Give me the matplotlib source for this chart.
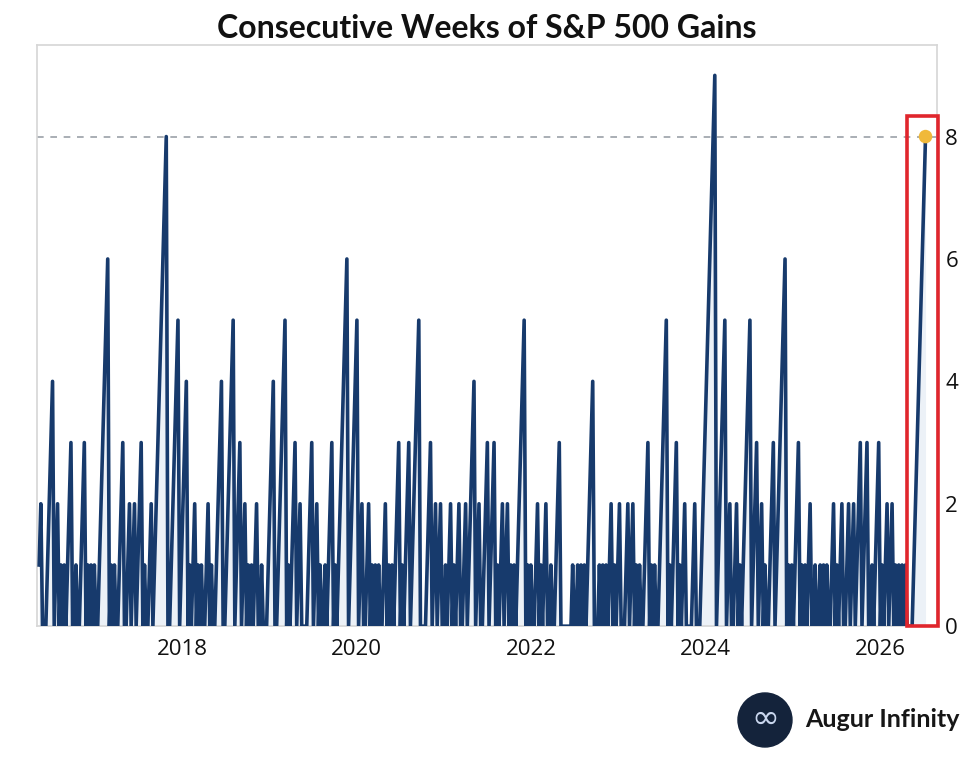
import matplotlib.pyplot as plt
import matplotlib.patches as mpatches
import matplotlib.dates as mdates
import numpy as np
import pandas as pd


# S&P 500 winning streaks, oldest first (weeks in a row with a weekly gain).
# every streak ends with one down week; a 0 stands for a further down week
streaks = [2, 0, 0, 4, 2, 1, 1, 3, 0, 1, 0, 3, 1, 1, 1, 0, 6, 1, 1, 0, 3, 0, 2, 2, 3, 1,
           0, 2, 8, 0, 5, 4, 1, 2, 1, 1, 0, 2, 1, 0, 4, 0, 5, 3, 2, 1, 1, 2, 0, 1, 0, 0, 4,
           0, 5, 1, 3, 2, 0, 0, 0, 3, 2, 1, 0, 1, 3, 1, 6, 5, 2, 0, 2, 1, 1, 1, 0, 2, 1, 1,
           3, 1, 3, 5, 0, 0, 0, 3, 2, 2, 0, 1, 2, 1, 2, 0, 2, 4, 2, 0, 3, 3, 1, 2, 2, 1, 1,
           5, 1, 1, 0, 2, 1, 2, 0, 1, 0, 3, 0, 0, 0, 0, 0, 0, 1, 0, 1, 1, 1, 4, 0, 0, 1, 1,
           1, 2, 1, 2, 0, 0, 2, 2, 1, 1, 0, 3, 1, 1, 0, 5, 1, 3, 1, 2, 0, 0, 0, 2, 0, 0, 9,
           5, 2, 0, 2, 1, 5, 3, 2, 1, 0, 3, 6, 1, 1, 3, 1, 1, 2, 0, 1, 0, 1, 1, 1, 0, 2, 1,
           2, 0, 2, 2, 3, 3, 0, 1, 3, 1, 2, 2, 1, 1, 1, 1, 0, 0, 0, 8]
first_week = '2016-05-13'
year_ticks = [2018, 2020, 2022, 2024, 2026]
value_ticks = [0, 2, 4, 6, 8]
record_level = 8

navy = '#173a6c'
frame_grey = '#d6d6d6'

# weekly counter of consecutive gains
weekly = []
for i, s in enumerate(streaks):
    if i > 0:
        weekly.append(0)
    weekly.extend(range(1, s + 1))
weekly = np.array(weekly)
dates = pd.date_range(first_week, periods=len(weekly), freq='W-FRI')

fig = plt.figure(figsize=(9.74, 7.59), dpi=100)
ax = fig.add_axes([0.038, 0.175, 0.924, 0.766])

ax.fill_between(dates, weekly, color='#dde6f2', alpha=0.55, lw=0, zorder=1)
ax.plot(dates, weekly, color=navy, lw=2.6, zorder=3)
ax.axhline(record_level, color='#9ba1a8', lw=1.2, ls=(0, (4, 4)), zorder=2)
ax.scatter(dates[-1:], weekly[-1:], s=95, color='#f0b93a', zorder=5, edgecolor='none')

# highlight box round the current streak
box_x0 = mdates.date2num(pd.Timestamp('2026-04-22'))
box_x1 = mdates.date2num(pd.Timestamp('2026-08-30'))
ax.add_patch(mpatches.Rectangle((box_x0, 0), box_x1 - box_x0, 8.33, fill=False,
                                ec='#e0262d', lw=2.6, clip_on=False, zorder=6))

ax.set_xlim(pd.Timestamp('2016-05-04'), pd.Timestamp('2026-08-27'))
ax.set_ylim(0, 9.5)
ax.set_xticks([pd.Timestamp(f'{y}-01-01') for y in year_ticks])
ax.set_xticklabels([str(y) for y in year_ticks])
ax.set_yticks(value_ticks)
ax.yaxis.tick_right()
ax.tick_params(axis='both', length=0, labelsize=16, colors='#111111')
ax.tick_params(axis='x', pad=9)
ax.tick_params(axis='y', pad=6)
for lab in ax.get_xticklabels() + ax.get_yticklabels():
    lab.set_family('Open Sans')
for spine in ax.spines.values():
    spine.set_color(frame_grey)
    spine.set_linewidth(1.2)

fig.text(0.5, 0.962, 'Consecutive Weeks of S&P 500 Gains', ha='center', va='center',
         fontsize=23, fontweight='bold', family='Lato', color='#111111')

# logo
fig.add_artist(mpatches.Ellipse((0.7854, 0.0514), 54 / 974, 54 / 759,
                                transform=fig.transFigure, color='#14233b'))
fig.text(0.7854, 0.0535, '\u221e', ha='center', va='center', fontsize=24,
         color='#c9d6ee', family='DejaVu Sans')
fig.text(0.8265, 0.0514, 'Augur Infinity', ha='left', va='center', fontsize=18,
         fontweight='bold', family='Lato', color='#161616')

fig.savefig('out.png', dpi=100, facecolor='white')
